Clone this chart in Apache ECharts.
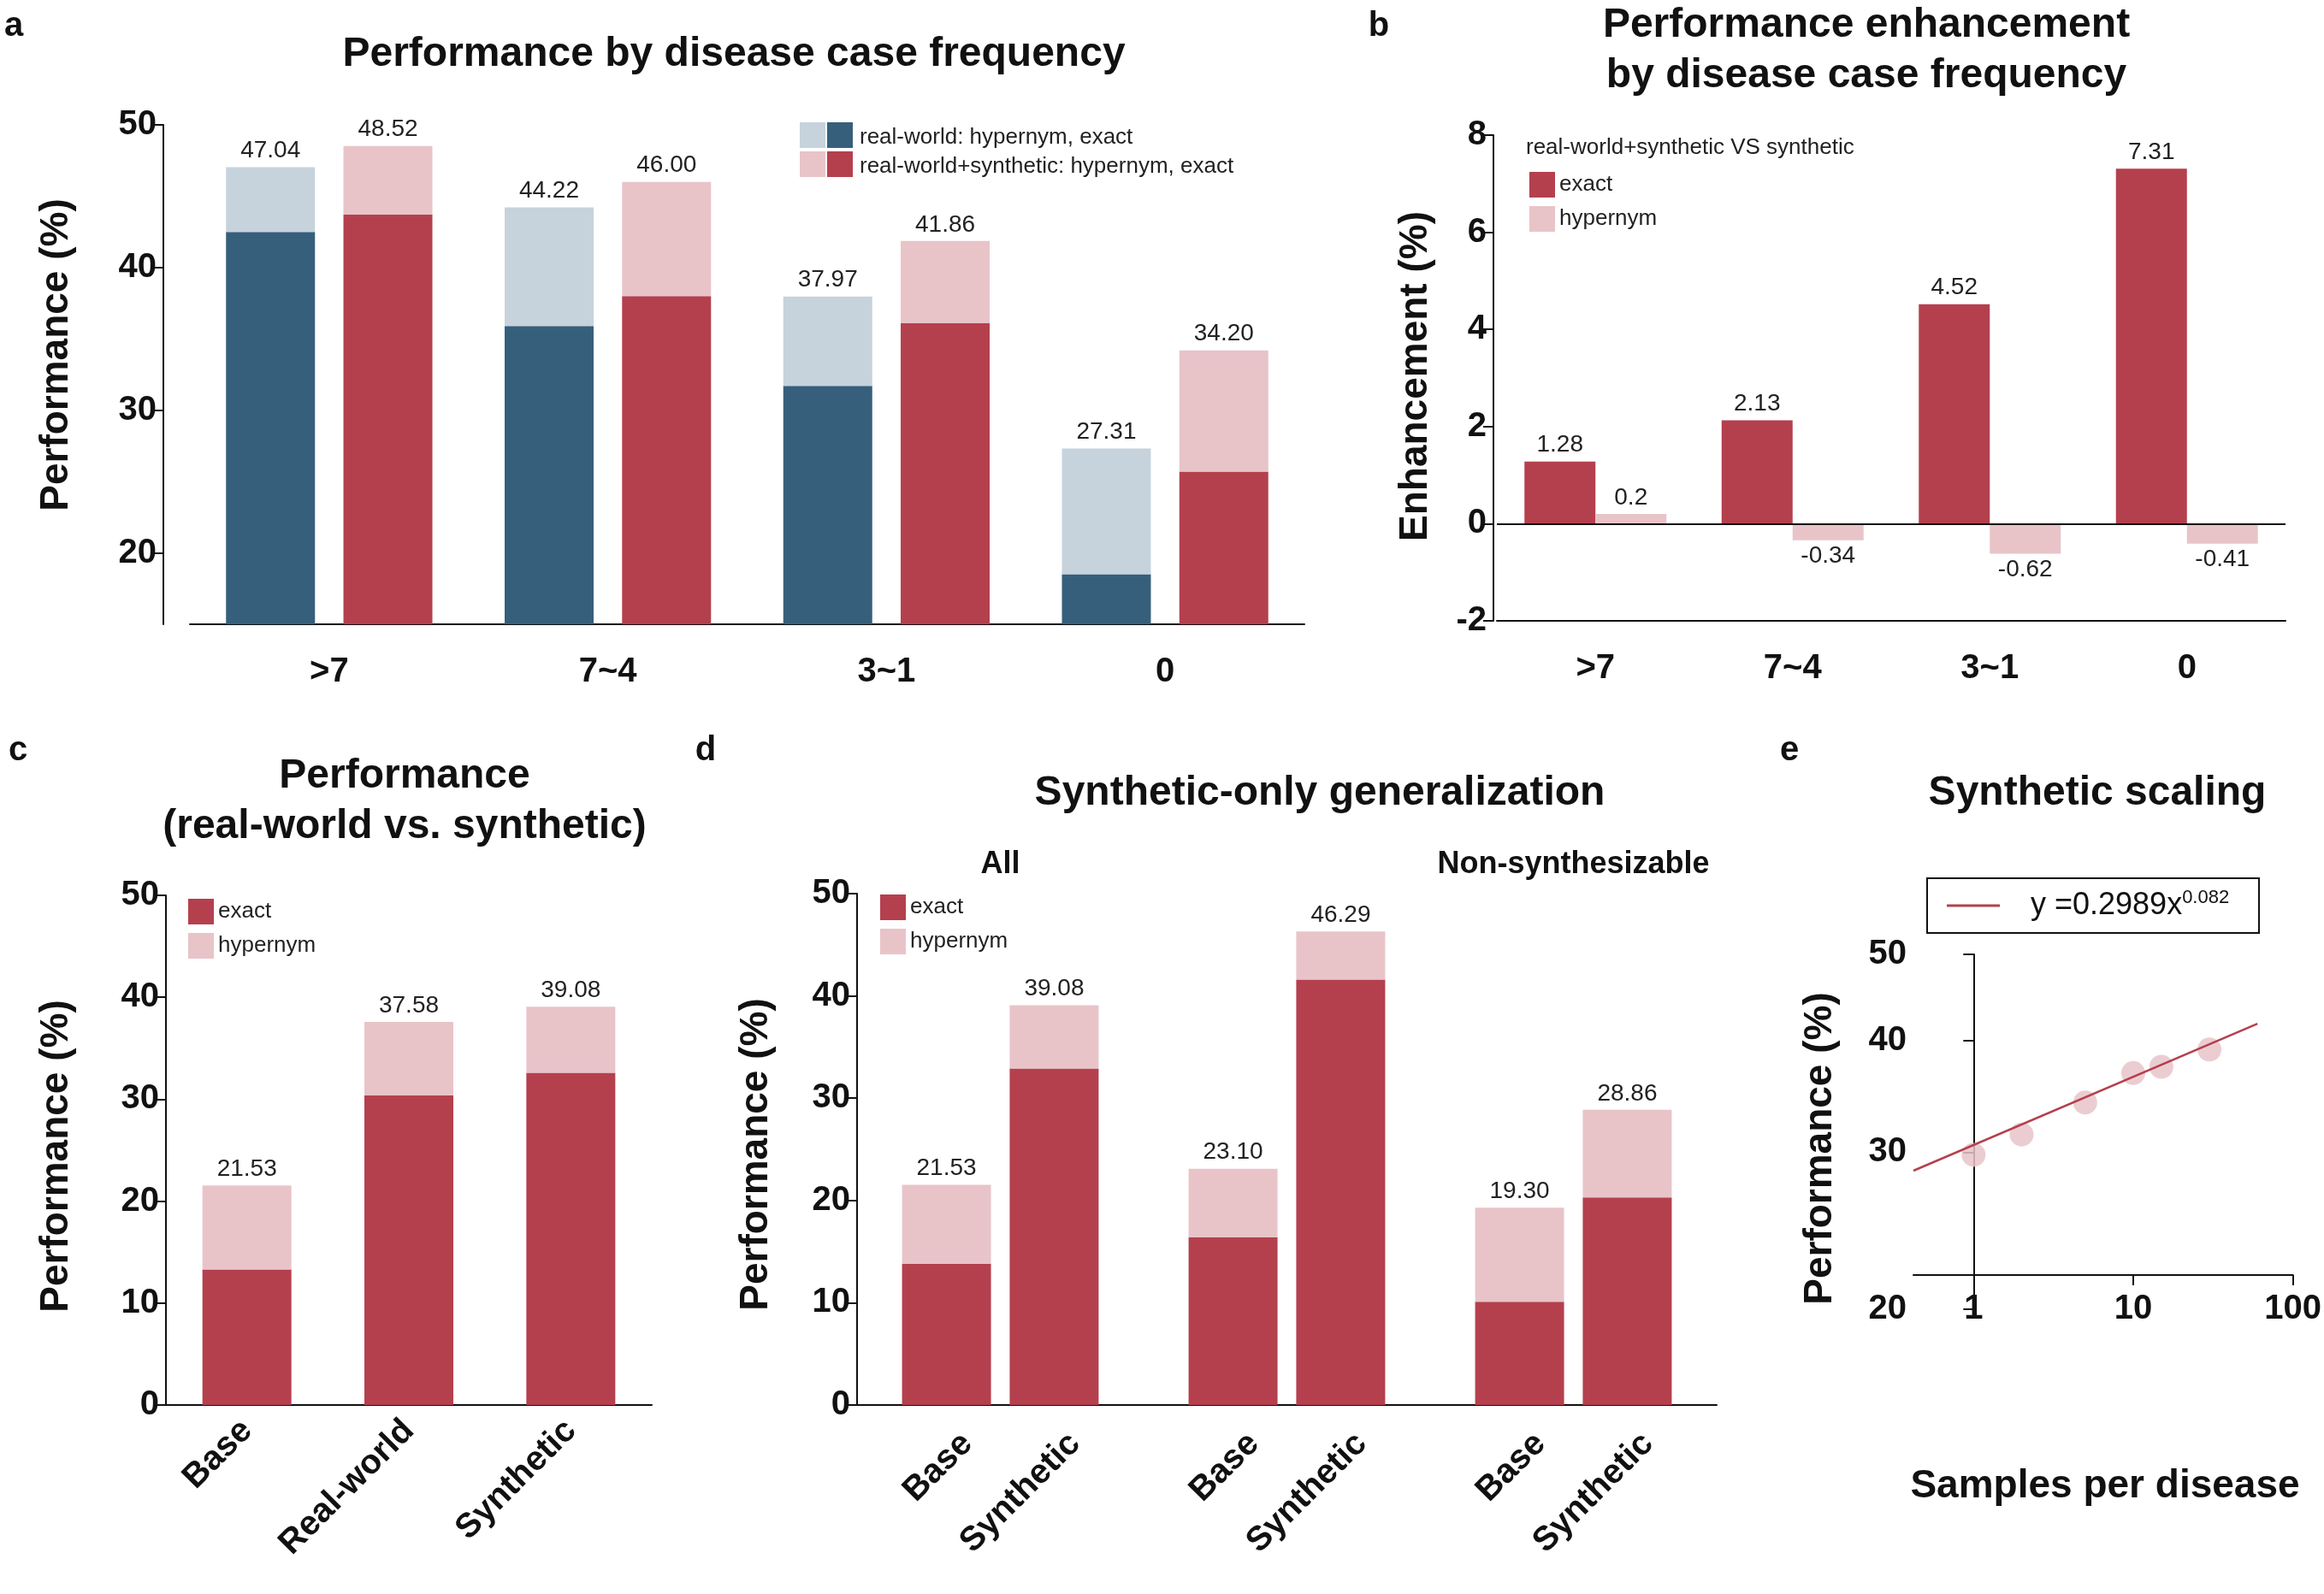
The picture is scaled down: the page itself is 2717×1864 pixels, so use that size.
<!DOCTYPE html>
<html>
<head>
<meta charset="utf-8">
<script src="https://cdn.jsdelivr.net/npm/echarts@6/dist/echarts.min.js"></script>
<style>html,body{margin:0;padding:0;background:#fff}#main{width:2717px;height:1864px}</style>
</head>
<body>
<div id="main"></div>
<script>
// panel a
const freqCats = ['>7', '7~4', '3~1', '0']
const rwTotal = [47.04, 44.22, 37.97, 27.31]
const rwExact = [42.5, 35.9, 31.7, 18.5]
const rsTotal = [48.52, 46.00, 41.86, 34.20]
const rsExact = [43.7, 38.0, 36.1, 25.7]
// panel b
const enhExact = [1.28, 2.13, 4.52, 7.31]
const enhHyper = [0.2, -0.34, -0.62, -0.41]
// panel c
const srcCats = ['Base', 'Real-world', 'Synthetic']
const srcTotal = [21.53, 37.58, 39.08]
const srcExact = [13.3, 30.4, 32.6]
// panel d
const genCats = ['All', 'Synthesizable', 'Non-synthesizable']
const genBaseTotal = [21.53, 23.10, 19.30]
const genBaseExact = [13.8, 16.4, 10.1]
const genSynTotal = [39.08, 46.29, 28.86]
const genSynExact = [32.9, 41.6, 20.3]
// panel e
const scaleX = [1, 2, 5, 10, 15, 30]
const scaleY = [29.8, 31.4, 34.1, 36.8, 37.4, 39.1]
const fitX = [0.42, 60]
const fitY = [28.6, 41.8]

const RED = '#b4404e', PINK = '#e8c4c9', BLUE = '#365f7c', LBLUE = '#c6d3dd'
const FONT = 'Liberation Sans'
const tick = {fontFamily: FONT, fontWeight: 'bold', fontSize: 40, color: '#111'}
const valLabel = {show: true, position: 'top', fontFamily: FONT, fontSize: 28, color: '#222'}
const axLine = {show: true, lineStyle: {color: '#111', width: 2}}
const axTick = {show: true, length: 12, lineStyle: {color: '#111', width: 2}}

let myChart = echarts.init(document.getElementById('main'))

function diff(t, e) { return t.map((v, i) => +(v - e[i]).toFixed(2)) }
function totalLabel(tot) {
  return Object.assign({}, valLabel, {formatter: p => tot[p.dataIndex].toFixed(2)})
}
function txt(x, y, text, size, opts) {
  return Object.assign({type: 'text', x: x, y: y, style: Object.assign({text: text, fontFamily: FONT, fontSize: size, fontWeight: 'bold', fill: '#111', align: 'center', verticalAlign: 'middle'}, (opts || {}).style || {})}, opts ? {rotation: opts.rotation || 0} : {})
}
function sq(x, y, c) { return {type: 'rect', shape: {x: x, y: y, width: 30, height: 30}, style: {fill: c}} }

const lg = ln => Math.log(ln)
const eY = scaleX.map((x, i) => [Math.log10(x), Math.log(scaleY[i])])
const eFit = fitX.map((x, i) => [Math.log10(x), Math.log(fitY[i])])

const option = {
  animation: false,
  grid: [
    {left: 222, top: 146, width: 1303, height: 584},
    {left: 1750, top: 158, width: 922, height: 568},
    {left: 194, top: 1047, width: 568, height: 596},
    {left: 1002, top: 1045, width: 1005, height: 598},
    {left: 2237, top: 1116, width: 446, height: 415}
  ],
  legend: [
    {data: ['exact', 'hypernym'], orient: 'vertical', left: 1783, top: 196, itemWidth: 30, itemHeight: 30, itemGap: 10, icon: 'rect', textStyle: {fontFamily: FONT, fontSize: 26, color: '#222'}},
    {data: ['exact', 'hypernym'], orient: 'vertical', left: 215, top: 1046, itemWidth: 30, itemHeight: 30, itemGap: 10, icon: 'rect', textStyle: {fontFamily: FONT, fontSize: 26, color: '#222'}},
    {data: ['exact', 'hypernym'], orient: 'vertical', left: 1024, top: 1041, itemWidth: 30, itemHeight: 30, itemGap: 10, icon: 'rect', textStyle: {fontFamily: FONT, fontSize: 26, color: '#222'}}
  ],
  xAxis: [
    {gridIndex: 0, type: 'category', data: freqCats, axisLine: axLine, axisTick: {show: false}, axisLabel: Object.assign({}, tick, {margin: 36})},
    {gridIndex: 1, type: 'category', data: freqCats, axisLine: Object.assign({onZero: false}, axLine), axisTick: {show: false}, axisLabel: Object.assign({}, tick, {margin: 36})},
    {gridIndex: 2, type: 'category', data: srcCats, axisLine: axLine, axisTick: {show: false}, axisLabel: Object.assign({}, tick, {rotate: 45, margin: 24})},
    {gridIndex: 3, type: 'category', data: genCats, axisLine: axLine, axisTick: {show: false}, axisLabel: {show: false}},
    {gridIndex: 3, type: 'category', data: genCats, position: 'top', axisLine: {show: false}, axisTick: {show: false}, axisLabel: Object.assign({}, tick, {fontSize: 36, margin: 16})},
    {gridIndex: 4, type: 'value', min: Math.log10(0.42), max: 2, offset: -40, axisLine: axLine, splitLine: {show: false},
      axisTick: Object.assign({customValues: [0, 1, 2], inside: false}, axTick),
      axisLabel: Object.assign({customValues: [0, 1, 2], formatter: v => String(Math.round(Math.pow(10, v))), margin: 20}, tick)}
  ],
  yAxis: [
    {gridIndex: 0, type: 'value', min: 15, max: 50, axisLine: axLine, splitLine: {show: false}, offset: 31,
      axisTick: Object.assign({customValues: [20, 30, 40, 50]}, axTick),
      axisLabel: Object.assign({customValues: [20, 30, 40, 50]}, tick)},
    {gridIndex: 1, type: 'value', min: -2, max: 8, interval: 2, axisLine: axLine, axisTick: axTick, splitLine: {show: false}, axisLabel: tick, offset: 4},
    {gridIndex: 2, type: 'value', min: 0, max: 50, interval: 10, axisLine: axLine, axisTick: axTick, splitLine: {show: false}, axisLabel: tick},
    {gridIndex: 3, type: 'value', min: 0, max: 50, interval: 10, axisLine: axLine, axisTick: axTick, splitLine: {show: false}, axisLabel: tick},
    {gridIndex: 4, type: 'value', min: Math.log(20), max: Math.log(50), axisLine: axLine, splitLine: {show: false},
      axisTick: Object.assign({customValues: [20, 30, 40, 50].map(lg)}, axTick),
      axisLabel: Object.assign({customValues: [20, 30, 40, 50].map(lg), formatter: v => String(Math.round(Math.exp(v)))}, tick)}
  ],
  series: [
    // a
    {name: 'rw exact', type: 'bar', xAxisIndex: 0, yAxisIndex: 0, stack: 'rw', data: rwExact, barWidth: 104, barGap: '32%', itemStyle: {color: BLUE}},
    {name: 'rw hyper', type: 'bar', xAxisIndex: 0, yAxisIndex: 0, stack: 'rw', data: diff(rwTotal, rwExact), itemStyle: {color: LBLUE}, label: totalLabel(rwTotal)},
    {name: 'rs exact', type: 'bar', xAxisIndex: 0, yAxisIndex: 0, stack: 'rs', data: rsExact, barWidth: 104, itemStyle: {color: RED}},
    {name: 'rs hyper', type: 'bar', xAxisIndex: 0, yAxisIndex: 0, stack: 'rs', data: diff(rsTotal, rsExact), itemStyle: {color: PINK}, label: totalLabel(rsTotal)},
    // b
    {name: 'exact', type: 'bar', xAxisIndex: 1, yAxisIndex: 1, data: enhExact, barWidth: 83, barGap: '0%', itemStyle: {color: RED},
      label: Object.assign({}, valLabel, {formatter: p => String(p.value)}),
      markLine: {silent: true, symbol: 'none', label: {show: false}, lineStyle: {color: '#111', type: 'solid', width: 2}, data: [{yAxis: 0}]}},
    {name: 'hypernym', type: 'bar', xAxisIndex: 1, yAxisIndex: 1, barWidth: 83, itemStyle: {color: PINK},
      data: enhHyper.map(v => ({value: v, label: {position: v < 0 ? 'bottom' : 'top'}})),
      label: Object.assign({}, valLabel, {formatter: p => String(p.value)})},
    // c
    {name: 'exact', type: 'bar', xAxisIndex: 2, yAxisIndex: 2, stack: 'c', data: srcExact, barWidth: 104, itemStyle: {color: RED}},
    {name: 'hypernym', type: 'bar', xAxisIndex: 2, yAxisIndex: 2, stack: 'c', data: diff(srcTotal, srcExact), itemStyle: {color: PINK}, label: totalLabel(srcTotal)},
    // d
    {name: 'exact', type: 'bar', xAxisIndex: 3, yAxisIndex: 3, stack: 'db', data: genBaseExact, barWidth: 104, barGap: '21%', itemStyle: {color: RED}},
    {name: 'hypernym', type: 'bar', xAxisIndex: 3, yAxisIndex: 3, stack: 'db', data: diff(genBaseTotal, genBaseExact), itemStyle: {color: PINK}, label: totalLabel(genBaseTotal)},
    {name: 'exact', type: 'bar', xAxisIndex: 3, yAxisIndex: 3, stack: 'ds', data: genSynExact, barWidth: 104, itemStyle: {color: RED}},
    {name: 'hypernym', type: 'bar', xAxisIndex: 3, yAxisIndex: 3, stack: 'ds', data: diff(genSynTotal, genSynExact), itemStyle: {color: PINK}, label: totalLabel(genSynTotal)},
    // e
    {name: 'points', type: 'scatter', xAxisIndex: 5, yAxisIndex: 4, data: eY, symbolSize: 28, itemStyle: {color: PINK, opacity: 0.85}},
    {name: 'fit', type: 'line', xAxisIndex: 5, yAxisIndex: 4, data: eFit, showSymbol: false, lineStyle: {color: RED, width: 2.5}}
  ],
  graphic: [
    txt(16, 31, 'a', 40), txt(1612, 31, 'b', 40), txt(21, 878, 'c', 40), txt(825, 878, 'd', 40), txt(2092, 878, 'e', 40),
    txt(858, 64, 'Performance by disease case frequency', 48),
    txt(2182, 30, 'Performance enhancement', 48), txt(2182, 89, 'by disease case frequency', 48),
    txt(473, 908, 'Performance', 48), txt(473, 967, '(real-world vs. synthetic)', 48),
    txt(1543, 928, 'Synthetic-only generalization', 48),
    txt(2452, 928, 'Synthetic scaling', 48),
    txt(2461, 1738, 'Samples per disease', 46),
    txt(66, 415, 'Performance (%)', 46, {rotation: Math.PI / 2}),
    txt(1655, 440, 'Enhancement (%)', 46, {rotation: Math.PI / 2}),
    txt(66, 1352, 'Performance (%)', 46, {rotation: Math.PI / 2}),
    txt(884, 1350, 'Performance (%)', 46, {rotation: Math.PI / 2}),
    txt(2128, 1343, 'Performance (%)', 46, {rotation: Math.PI / 2}),
    // panel a legend
    sq(935, 143, LBLUE), sq(967, 143, BLUE), sq(935, 177, PINK), sq(967, 177, RED),
    txt(1005, 161, 'real-world: hypernym, exact', 26, {style: {fontWeight: 'normal', align: 'left', fill: '#222'}}),
    txt(1005, 195, 'real-world+synthetic: hypernym, exact', 26, {style: {fontWeight: 'normal', align: 'left', fill: '#222'}}),
    // panel b legend header
    txt(1784, 173, 'real-world+synthetic VS synthetic', 26, {style: {fontWeight: 'normal', align: 'left', fill: '#222'}}),
    // panel e legend
    {type: 'rect', shape: {x: 2253, y: 1027, width: 388, height: 64}, style: {fill: 'none', stroke: '#111', lineWidth: 2}},
    {type: 'line', shape: {x1: 2276, y1: 1059, x2: 2338, y2: 1059}, style: {stroke: RED, lineWidth: 3}},
    {type: 'text', x: 2374, y: 1059, style: {text: '{a|y =0.2989x}{b|0.082}', verticalAlign: 'middle', align: 'left', fill: '#111',
      rich: {a: {fontFamily: FONT, fontSize: 36, fill: '#111'}, b: {fontFamily: FONT, fontSize: 22, fill: '#111', verticalAlign: 'top', padding: [0, 0, 18, 0]}}}}
  ]
}
myChart.setOption(option)

// rotated bar labels under panel d, placed at each bar via the axis scale
const extra = []
genCats.forEach((c, i) => {
  const cx = myChart.convertToPixel({xAxisIndex: 3}, c)
  ;[['Base', -63], ['Synthetic', 63]].forEach(([t, off]) => {
    extra.push({type: 'text', x: cx + off + 10, y: 1668, rotation: Math.PI / 4,
      style: {text: t, fontFamily: FONT, fontWeight: 'bold', fontSize: 40, fill: '#111', align: 'right', verticalAlign: 'top'}})
  })
})
myChart.setOption({graphic: option.graphic.concat(extra)})
</script>
</body>
</html>
